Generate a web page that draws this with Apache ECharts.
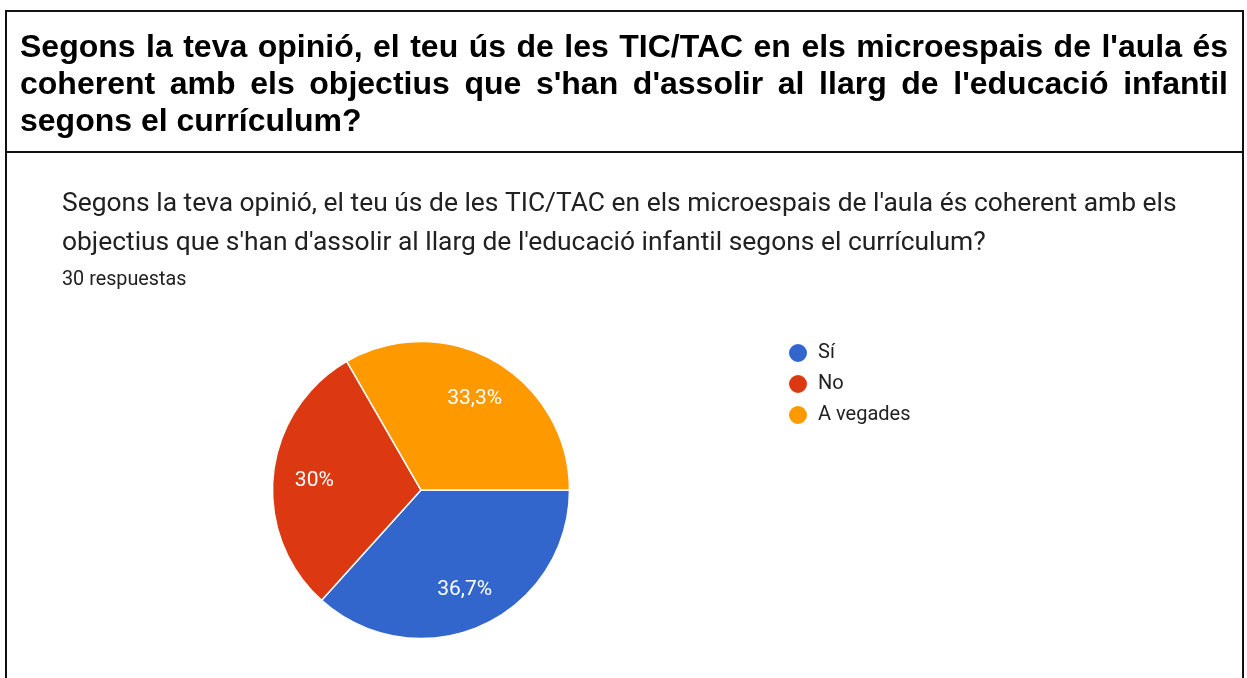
<!DOCTYPE html>
<html>
<head>
<meta charset="utf-8">
<script src="https://cdn.jsdelivr.net/npm/echarts@6/dist/echarts.min.js"></script>
<style>
    html, body { margin: 0; padding: 0; background: #fff; overflow: hidden; }
    #chart { position: absolute; left: 0; top: 0; width: 1247px; height: 678px; }
    .frame {
        position: absolute; left: 5px; top: 10px; width: 1239px; height: 900px;
        border: 2px solid #111; box-sizing: border-box; pointer-events: none;
    }
    .header {
        position: absolute; left: 5px; top: 10px; width: 1239px; height: 143px;
        border: 2px solid #111; box-sizing: border-box;
        padding: 16px 14px 0 13px;
        font-family: "Liberation Sans", Arial, sans-serif; font-weight: bold;
        font-size: 32px; line-height: 37px; text-align: justify; color: #000;
    }
</style>
</head>
<body>
<div id="chart"></div>
<div class="frame"></div>
<div class="header">Segons la teva opinió, el teu ús de les TIC/TAC en els microespais de l'aula és coherent amb els objectius que s'han d'assolir al llarg de l'educació infantil segons el currículum?</div>
<script>
// dades
const answers = ['Sí', 'No', 'A vegades']
const counts = [11, 9, 10]
const colors = ['#3366cc', '#dc3912', '#ff9900']
const totalAnswers = 30

const total = counts.reduce((a, b) => a + b, 0)
const pieData = answers.map((name, i) => ({ name: name, value: counts[i], itemStyle: { color: colors[i] } }))

// percentatge amb coma decimal
const fmtPercent = (v) => {
    let s = (v / total * 100).toFixed(1)
    if (s.endsWith('.0')) s = s.slice(0, -2)
    return s.replace('.', ',') + '%'
}

const chart = echarts.init(document.getElementById('chart'))
const option = {
    animation: false,
    title: {
        left: 57,
        top: 180,
        itemGap: 4,
        text: "Segons la teva opinió, el teu ús de les TIC/TAC en els microespais de l'aula és coherent amb els\nobjectius que s'han d'assolir al llarg de l'educació infantil segons el currículum?",
        textStyle: {
            fontFamily: 'Roboto',
            fontSize: 26.4,
            fontWeight: 'normal',
            lineHeight: 39,
            color: '#212121'
        },
        subtext: totalAnswers + ' respuestas',
        subtextStyle: {
            fontFamily: 'Roboto',
            fontSize: 19.8,
            lineHeight: 26,
            color: '#212121'
        }
    },
    legend: {
        orient: 'vertical',
        left: 782,
        top: 337,
        icon: 'circle',
        itemWidth: 20,
        itemHeight: 20,
        itemGap: 9,
        data: answers,
        textStyle: {
            fontFamily: 'Roboto',
            fontSize: 20,
            color: '#222',
            padding: [0, 0, 0, 5]
        }
    },
    series: [
        {
            type: 'pie',
            center: [421, 490],
            radius: 148.5,
            startAngle: 0,
            clockwise: true,
            label: { show: false },
            labelLine: { show: false },
            itemStyle: { borderColor: '#fff', borderWidth: 1.5 },
            emphasis: { disabled: true },
            data: pieData
        },
        {
            // capa només per a les etiquetes
            type: 'pie',
            center: [421, 490],
            radius: [60, 148.5],
            startAngle: 0,
            clockwise: true,
            silent: true,
            itemStyle: { color: 'rgba(0,0,0,0)', borderWidth: 0 },
            emphasis: { disabled: true },
            labelLine: { show: false },
            label: {
                show: true,
                position: 'inside',
                offset: [0, 2],
                formatter: (p) => fmtPercent(p.value),
                color: '#fff',
                fontFamily: 'Roboto',
                fontSize: 21
            },
            data: answers.map((name, i) => ({ name: name, value: counts[i] }))
        }
    ]
}
chart.setOption(option)
</script>
</body>
</html>
